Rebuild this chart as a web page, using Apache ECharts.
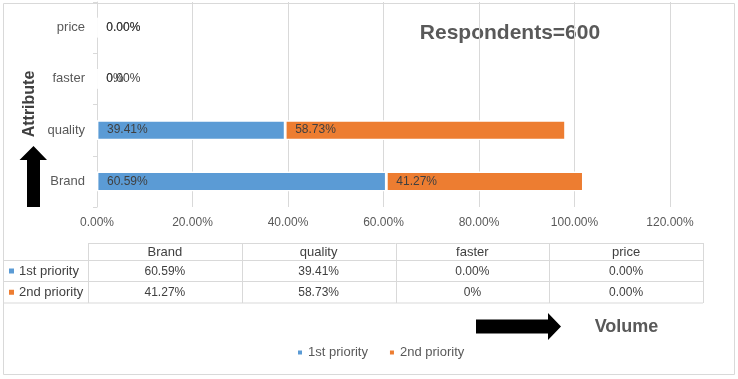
<!DOCTYPE html>
<html>
<head>
<meta charset="utf-8">
<script src="https://cdn.jsdelivr.net/npm/echarts@6/dist/echarts.min.js"></script>
<style>
  body { margin: 0; background: #fff; }
  #chart { width: 738px; height: 379px; }
</style>
</head>
<body>
<div id="chart"></div>
<script>
const categories = ['Brand', 'quality', 'faster', 'price'];
const seriesNames = ['1st priority', '2nd priority'];
const firstPriority = [60.59, 39.41, 0, 0];
const secondPriority = [41.27, 58.73, 0, 0];
// number of decimals shown per cell (excel cell format)
const firstDecimals = [2, 2, 2, 2];
const secondDecimals = [2, 2, 0, 2];
const xTicks = { min: 0, max: 120, interval: 20 };
const colors = ['#5B9BD5', '#ED7D31'];

const FONT = '"Liberation Sans", Arial, sans-serif';
const fmt = (v, d) => v.toFixed(d) + '%';

// data table under the chart
const tableLeft = 88, colW = 153.75, rowLines = [243, 260, 281, 302.5];
const lineStyle = { stroke: '#d9d9d9', lineWidth: 1 };
const graphic = [];

graphic.push({
  type: 'rect', z: -1, silent: true,
  shape: { x: 3.5, y: 3.5, width: 731, height: 371 },
  style: { fill: 'none', stroke: '#d9d9d9', lineWidth: 1 }
});
rowLines.forEach((y, i) => {
  graphic.push({
    type: 'line', silent: true,
    shape: { x1: i === 0 ? tableLeft : 3, y1: y + 0.5, x2: tableLeft + colW * 4, y2: y + 0.5 },
    style: lineStyle
  });
});
for (let i = 0; i <= 4; i++) {
  const x = Math.round(tableLeft + colW * i) + 0.5;
  graphic.push({
    type: 'line', silent: true,
    shape: { x1: x, y1: rowLines[0], x2: x, y2: rowLines[3] + 0.5 },
    style: lineStyle
  });
}
const cellText = (text, x, y, align) => ({
  type: 'text', silent: true, x: x, y: y,
  style: {
    text: text, fill: '#404040', font: '12px ' + FONT,
    textAlign: align || 'center', textVerticalAlign: 'middle'
  }
});
const rowMid = i => (rowLines[i] + rowLines[i + 1]) / 2 + 1;
categories.forEach((c, j) => {
  const cx = tableLeft + colW * (j + 0.5);
  const h = cellText(c, cx, rowMid(0));
  h.style.font = '13px ' + FONT;
  graphic.push(h);
  graphic.push(cellText(fmt(firstPriority[j], firstDecimals[j]), cx, rowMid(1)));
  graphic.push(cellText(fmt(secondPriority[j], secondDecimals[j]), cx, rowMid(2)));
});
seriesNames.forEach((n, i) => {
  const y = rowMid(i + 1);
  graphic.push({
    type: 'rect', silent: true,
    shape: { x: 9, y: y - 3, width: 5, height: 5 },
    style: { fill: colors[i] }
  });
  const t = cellText(n, 19, y, 'left');
  t.style.font = '13px ' + FONT;
  graphic.push(t);
});

// arrows and annotations
graphic.push({
  type: 'polygon', silent: true,
  shape: { points: [[27, 207], [40, 207], [40, 160], [47, 160], [33.5, 146], [19.5, 160], [27, 160]] },
  style: { fill: '#000' }
});
graphic.push({
  type: 'polygon', silent: true,
  shape: { points: [[476, 319.5], [548, 319.5], [548, 313], [561, 326.5], [548, 340], [548, 333.5], [476, 333.5]] },
  style: { fill: '#000' }
});
graphic.push({
  type: 'text', silent: true, x: 30, y: 104, rotation: Math.PI / 2,
  style: {
    text: 'Attribute', fill: '#404040', font: 'bold 16px ' + FONT,
    textAlign: 'center', textVerticalAlign: 'middle'
  }
});
graphic.push({
  type: 'text', silent: true, x: 510, y: 33,
  style: {
    text: 'Respondents=600', fill: '#595959', font: 'bold 21px ' + FONT,
    textAlign: 'center', textVerticalAlign: 'middle'
  }
});
graphic.push({
  type: 'text', silent: true, x: 626.5, y: 327,
  style: {
    text: 'Volume', fill: '#595959', font: 'bold 18px ' + FONT,
    textAlign: 'center', textVerticalAlign: 'middle'
  }
});

const barLabel = decimals => ({
  show: true,
  position: 'insideLeft',
  distance: 10,
  color: '#404040',
  fontSize: 12,
  fontFamily: FONT,
  formatter: p => fmt(p.value, decimals[p.dataIndex])
});

const chart = echarts.init(document.getElementById('chart'));
chart.setOption({
  animation: false,
  textStyle: { fontFamily: FONT },
  grid: { left: 97, right: 68, top: 2, height: 205 },
  xAxis: {
    type: 'value',
    min: xTicks.min, max: xTicks.max, interval: xTicks.interval,
    axisLine: { show: false },
    axisTick: { show: false },
    axisLabel: {
      margin: 10, color: '#595959', fontSize: 12,
      formatter: v => v.toFixed(2) + '%'
    },
    splitLine: { lineStyle: { color: '#d9d9d9', width: 1 } }
  },
  yAxis: {
    type: 'category',
    data: categories,
    axisLine: { show: true, lineStyle: { color: '#d9d9d9' } },
    axisTick: { show: true, length: 4, lineStyle: { color: '#d9d9d9' } },
    axisLabel: { margin: 12, color: '#595959', fontSize: 13 }
  },
  legend: {
    left: 291, top: 341,
    icon: 'rect', itemWidth: 6, itemHeight: 6, itemGap: 20,
    textStyle: { color: '#595959', fontSize: 13 },
    data: seriesNames
  },
  series: [
    {
      name: seriesNames[0], type: 'bar', stack: 'total', barWidth: 19.8,
      itemStyle: { color: colors[0], borderColor: '#fff', borderWidth: 1.4 },
      label: barLabel(firstDecimals),
      data: firstPriority
    },
    {
      name: seriesNames[1], type: 'bar', stack: 'total', barWidth: 19.8,
      itemStyle: { color: colors[1], borderColor: '#fff', borderWidth: 1.4 },
      label: barLabel(secondDecimals),
      data: secondPriority
    }
  ],
  graphic: graphic
});
</script>
</body>
</html>
